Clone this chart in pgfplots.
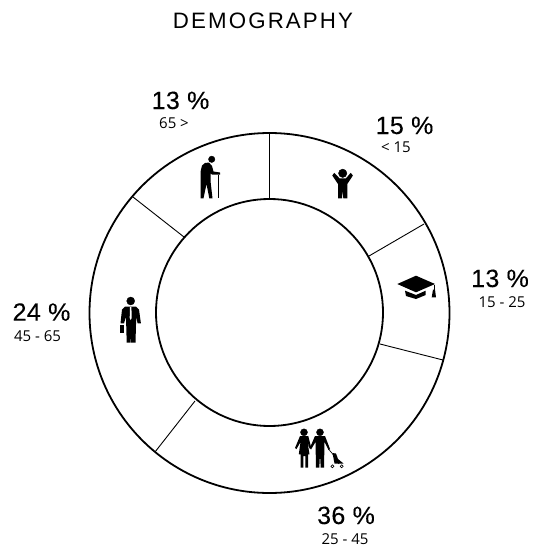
\documentclass[border=0pt]{standalone}
\usepackage{fontspec}
\usepackage{pgfplots}
\pgfplotsset{compat=1.18}
\setmainfont{Liberation Sans}
\newfontfamily\smallf{Open Sans}
\newfontfamily\titlef[LetterSpace=9.5]{Liberation Sans}
\newfontfamily\bigf[LetterSpace=1.5,FakeBold=0.25]{Liberation Sans}
\newcommand{\bg}[1]{{\bigf\fontsize{25}{25}\selectfont #1}}
\newcommand{\sm}[1]{{\smallf\fontsize{15}{15}\selectfont #1}}
\begin{document}
\begin{tikzpicture}
\begin{axis}[
  width=531pt,height=549pt,scale only axis,
  xmin=0,xmax=531,ymin=0,ymax=549,y dir=reverse,
  hide axis,clip=false,
  icon/.style={draw=none,fill=black,no markers,forget plot},
  seg/.style={black,line width=0.9pt,no markers,forget plot},
  head/.style={only marks,mark=*,mark options={black,draw=none,fill=black},forget plot},
]
\path (axis cs:0,0) rectangle (axis cs:531,549);
% ring
\draw[black,line width=1.8pt] (axis cs:269.5,313) circle [radius=180];
\draw[black,line width=1.8pt] (axis cs:269.5,312.5) circle [radius=113.5];
% sector boundaries
\addplot[seg] coordinates {(269.5,133)(269.5,199)};
\addplot[seg] coordinates {(424,224)(369,256)};
\addplot[seg] coordinates {(443,360)(380,344)};
\addplot[seg] coordinates {(155,452)(195,401)};
\addplot[seg] coordinates {(133,197)(184,237)};
% old person
\addplot[head,mark size=3.2pt] coordinates {(211.7,159.3)};
\addplot[icon] coordinates {(205,163)(209,162.5)(212,166)(213.5,171.5)(220,172.5)(220,174.5)(212,174.5)(210.5,173)(210.5,181)(212.5,198.3)(209.3,198.3)(206.5,184)(203.5,198.3)(200.7,198.3)(200.7,171)(202,165.5)};
\addplot[black,line width=0.9pt,no markers,forget plot] coordinates {(218.3,174.5)(218.3,198.3)};
% child
\addplot[head,mark size=4.2pt] coordinates {(342.7,173.3)};
\addplot[icon] coordinates {(332.3,175.5)(334.3,172.8)(339.5,178.3)(346,178.3)(350.7,172.8)(352.9,175.5)(347.3,184)(347.3,198.3)(343.3,198.3)(342.7,190)(342,198.3)(338,198.3)(338,184)};
% cap
\addplot[icon] coordinates {(397.3,284)(416,275.7)(435,284)(416,292.3)};
\addplot[icon] coordinates {(405,290.7)(416,295)(425.7,290.7)(425.7,295)(416,299)(406,296)};
\addplot[black,line width=0.6pt,no markers,forget plot] coordinates {(433.8,285)(433.8,291)};
\addplot[icon] coordinates {(433,289.5)(435,289.5)(436,297.3)(431.7,297.3)};
% family
\addplot[head,mark size=3.5pt] coordinates {(304,432.3)(320,432.3)};
\addplot[icon] coordinates {(300,436)(308.3,436)(311,447)(309.5,448.5)(307.5,442)(309.5,454.3)(308,454.3)(308,467.7)(305.3,467.7)(305.3,456)(303.3,456)(303.3,467.7)(300.7,467.7)(300.7,454.3)(298.8,454.3)(300.5,442)(296.5,449)(295,448)};
\addplot[icon] coordinates {(315,436)(325,436)(330,449)(328.5,450)(324.5,442)(324,467.7)(320.7,467.7)(320,454)(319.3,467.7)(316,467.7)(315.5,442)(311,449.5)(309.8,448)};
\addplot[black,line width=0.7pt,no markers,forget plot] coordinates {(328.5,449)(333.5,455)(339,464)};
\addplot[icon] coordinates {(332.5,453)(336,453.5)(338,459)(343.5,463.5)(334.5,463.5)};
\addplot[only marks,mark=o,mark size=1.5pt,mark options={black,line width=0.6pt},forget plot] coordinates {(332.4,466.3)(341.7,466.3)};
% business person
\addplot[head,mark size=4pt] coordinates {(130.7,301)};
\addplot[icon] coordinates {(125,306.7)(136,306.7)(139,309.5)(140.9,323.3)(137.6,323.3)(136.2,317)(135.5,342.7)(131,342.7)(130.8,328)(130.4,342.7)(126.7,342.7)(126,317)(124,323.3)(120.5,323.3)(122,309.5)};
\addplot[draw=none,fill=white,no markers,forget plot] coordinates {(130,307)(131.4,307)(131.7,318)(130.7,320)(129.7,318)};
\addplot[icon] coordinates {(120.2,325)(124,325)(124,333.3)(120.2,333.3)};
% text
\node[anchor=base] at (axis cs:263,28.3) {\titlef\fontsize{22.3}{22}\selectfont DEMOGRAPHY};
\node[anchor=base] at (axis cs:180.5,109) {\bg{13 \%}};
\node[anchor=base] at (axis cs:174,128) {\sm{65 >}};
\node[anchor=base] at (axis cs:404.5,134) {\bg{15 \%}};
\node[anchor=base] at (axis cs:396,152) {\sm{< 15}};
\node[anchor=base] at (axis cs:500,287) {\bg{13 \%}};
\node[anchor=base] at (axis cs:502,307.7) {\sm{15 - 25}};
\node[anchor=base] at (axis cs:346,524) {\bg{36 \%}};
\node[anchor=base] at (axis cs:345,544) {\sm{25 - 45}};
\node[anchor=base] at (axis cs:41.5,320.7) {\bg{24 \%}};
\node[anchor=base] at (axis cs:37.5,341.7) {\sm{45 - 65}};
\end{axis}
\end{tikzpicture}
\end{document}
